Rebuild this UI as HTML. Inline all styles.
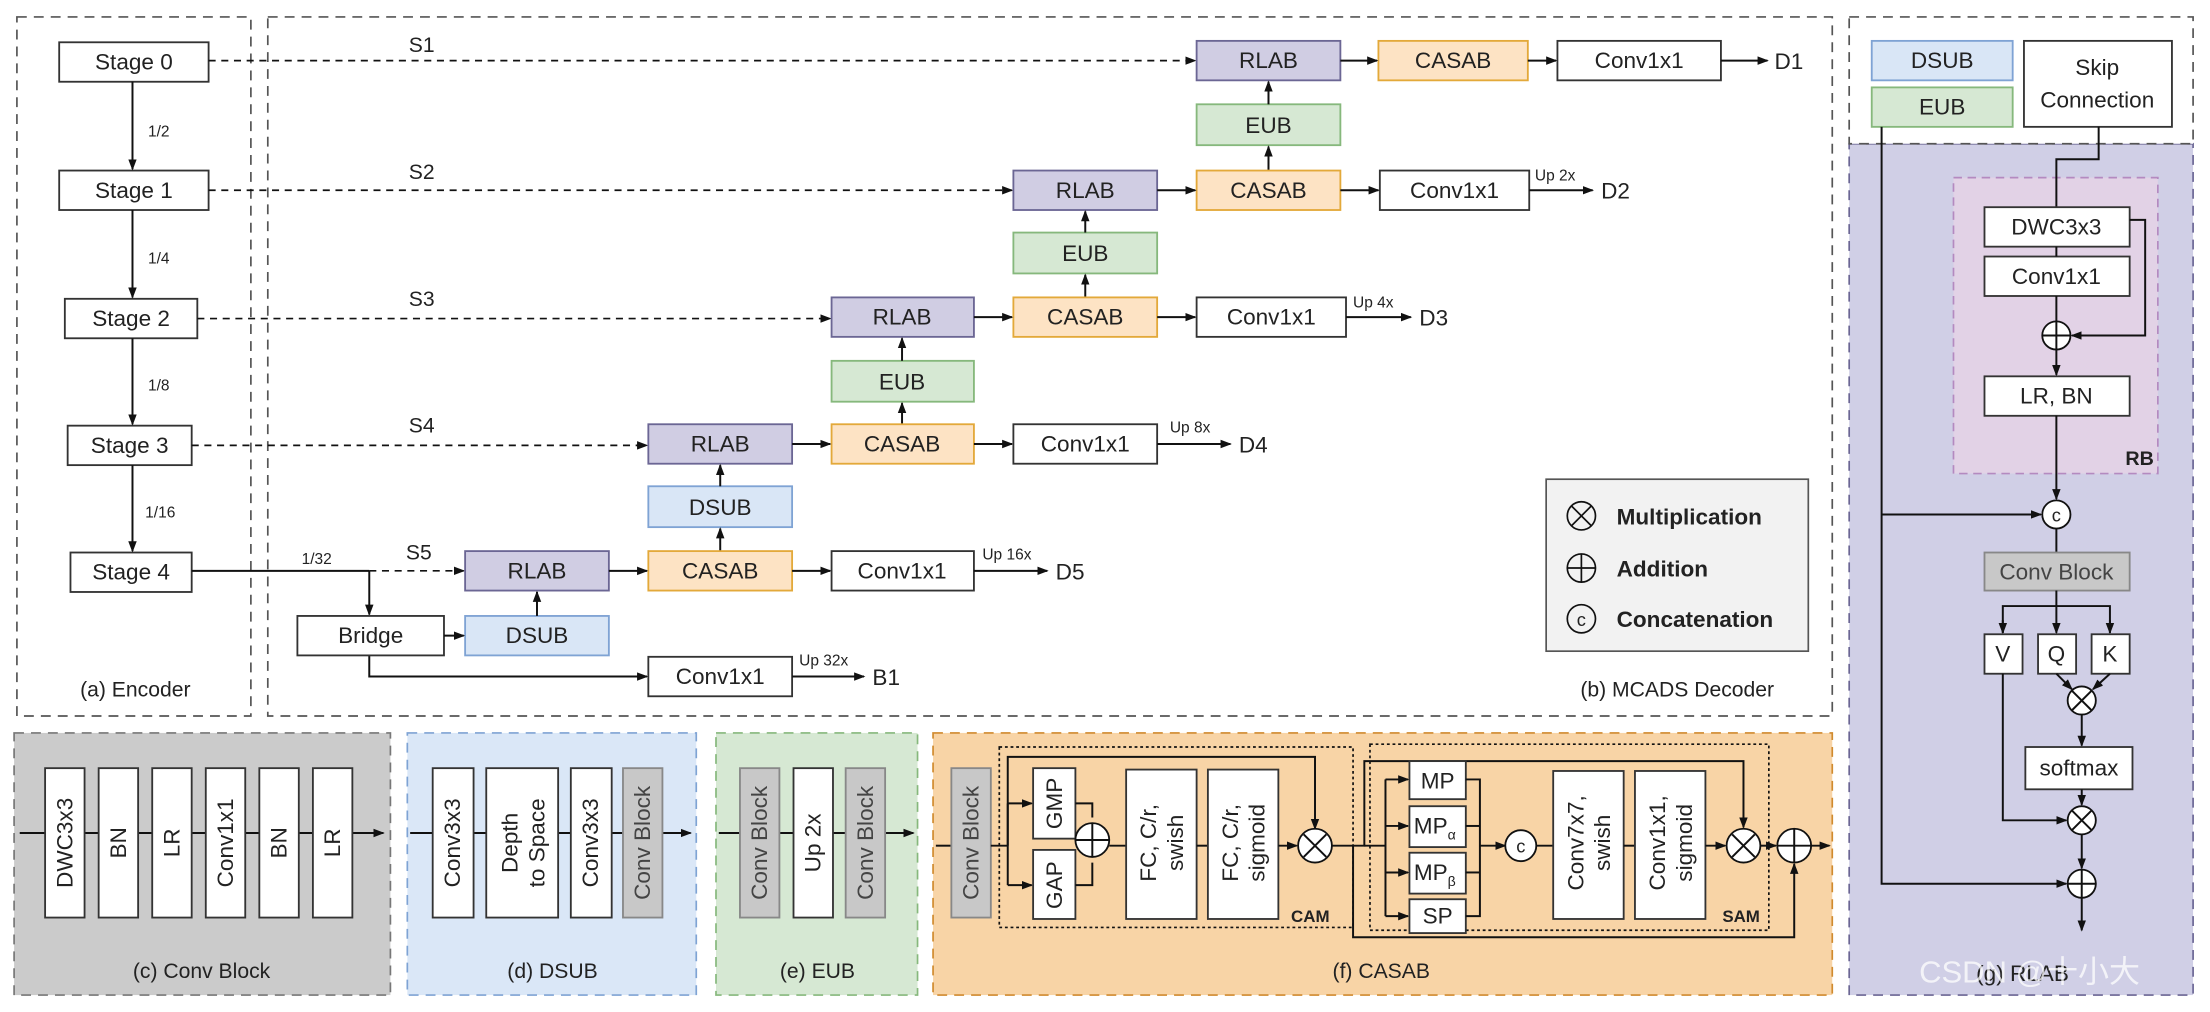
<!DOCTYPE html>
<html><head><meta charset="utf-8"><style>
html,body{margin:0;padding:0;background:#fff}
svg{display:block}
text{font-family:"Liberation Sans",sans-serif;fill:#222}
</style></head><body>
<svg width="2210" height="1012" viewBox="0 0 1568 718" preserveAspectRatio="none" xmlns="http://www.w3.org/2000/svg">
<defs>
<marker id="a" markerWidth="8" markerHeight="8" refX="7" refY="4" orient="auto" markerUnits="userSpaceOnUse"><path d="M0,1 L8,4 L0,7 Z" fill="#111"/></marker>
</defs>
<style>
.b{fill:#fff;stroke:#333;stroke-width:1.3}
.p{fill:#d0cde3;stroke:#6b6694;stroke-width:1.3}
.o{fill:#fde3c4;stroke:#e3a93a;stroke-width:1.3}
.g{fill:#d6e8d3;stroke:#86b87c;stroke-width:1.3}
.u{fill:#d9e6f6;stroke:#7fa3d4;stroke-width:1.3}
.k{fill:#c8c8c8;stroke:#888;stroke-width:1.3}
.l{stroke:#111;stroke-width:1.4;fill:none}
.d{stroke:#111;stroke-width:1.2;fill:none;stroke-dasharray:5 4}
.t{font-size:16px;text-anchor:middle;dominant-baseline:central}
.s{font-size:11px}
.c{fill:#fff;stroke:#111;stroke-width:1.3}
</style>
<!-- panels -->
<rect x="12" y="12" width="166" height="496" fill="none" stroke="#555" stroke-width="1.2" stroke-dasharray="7 5"/>
<rect x="190" y="12" width="1110" height="496" fill="none" stroke="#555" stroke-width="1.2" stroke-dasharray="7 5"/>
<rect x="1312" y="102" width="244" height="604" fill="#d0cfe6" stroke="#6b6694" stroke-width="1.2" stroke-dasharray="7 5"/>
<rect x="1312" y="12" width="244" height="90" fill="#fff" stroke="#555" stroke-width="1.2" stroke-dasharray="7 5"/>
<rect x="10" y="520" width="267" height="186" fill="#cbcbcb" stroke="#777" stroke-width="1.2" stroke-dasharray="7 5"/>
<rect x="289" y="520" width="205" height="186" fill="#dae7f7" stroke="#7fa3d4" stroke-width="1.2" stroke-dasharray="7 5"/>
<rect x="508" y="520" width="143" height="186" fill="#d6e8d3" stroke="#86b87c" stroke-width="1.2" stroke-dasharray="7 5"/>
<rect x="662" y="520" width="638" height="186" fill="#f8d4a6" stroke="#d08a2e" stroke-width="1.2" stroke-dasharray="7 5"/>

<!-- Encoder -->
<rect class="b" x="42" y="30" width="106" height="28"/><text class="t" x="95" y="44">Stage 0</text>
<rect class="b" x="42" y="121" width="106" height="28"/><text class="t" x="95" y="135">Stage 1</text>
<rect class="b" x="46" y="212" width="94" height="28"/><text class="t" x="93" y="226">Stage 2</text>
<rect class="b" x="48" y="302" width="88" height="28"/><text class="t" x="92" y="316">Stage 3</text>
<rect class="b" x="50" y="392" width="86" height="28"/><text class="t" x="93" y="406">Stage 4</text>
<line class="l" x1="94" y1="58" x2="94" y2="120" marker-end="url(#a)"/>
<line class="l" x1="94" y1="149" x2="94" y2="211" marker-end="url(#a)"/>
<line class="l" x1="94" y1="240" x2="94" y2="301" marker-end="url(#a)"/>
<line class="l" x1="94" y1="330" x2="94" y2="391" marker-end="url(#a)"/>
<text class="s" x="105" y="97">1/2</text><text class="s" x="105" y="187">1/4</text>
<text class="s" x="105" y="277">1/8</text><text class="s" x="103" y="367">1/16</text>
<text x="96" y="494" font-size="15" text-anchor="middle">(a) Encoder</text>

<!-- decoder skip lines -->
<line class="d" x1="148" y1="43" x2="848" y2="43" marker-end="url(#a)"/><text x="290" y="37" font-size="15">S1</text>
<line class="d" x1="148" y1="135" x2="718" y2="135" marker-end="url(#a)"/><text x="290" y="127" font-size="15">S2</text>
<line class="d" x1="140" y1="226" x2="589" y2="226" marker-end="url(#a)"/><text x="290" y="217" font-size="15">S3</text>
<line class="d" x1="136" y1="316" x2="459" y2="316" marker-end="url(#a)"/><text x="290" y="307" font-size="15">S4</text>
<line class="l" x1="136" y1="405" x2="262" y2="405"/><text class="s" x="214" y="400">1/32</text>
<line class="d" x1="262" y1="405" x2="329" y2="405" marker-end="url(#a)"/><text x="288" y="397" font-size="15">S5</text>
<line class="l" x1="262" y1="405" x2="262" y2="436" marker-end="url(#a)"/>
<polyline class="l" points="262,465 262,480 459,480" marker-end="url(#a)"/>

<!-- row1 -->
<rect class="p" x="849" y="29" width="102" height="28"/><text class="t" x="900" y="43">RLAB</text>
<rect class="o" x="978" y="29" width="106" height="28"/><text class="t" x="1031" y="43">CASAB</text>
<rect class="b" x="1105" y="29" width="116" height="28"/><text class="t" x="1163" y="43">Conv1x1</text>
<line class="l" x1="951" y1="43" x2="977" y2="43" marker-end="url(#a)"/>
<line class="l" x1="1084" y1="43" x2="1104" y2="43" marker-end="url(#a)"/>
<line class="l" x1="1221" y1="43" x2="1254" y2="43" marker-end="url(#a)"/><text x="1259" y="49" font-size="16">D1</text>
<rect class="g" x="849" y="74" width="102" height="29"/><text class="t" x="900" y="89">EUB</text>
<line class="l" x1="900" y1="74" x2="900" y2="58" marker-end="url(#a)"/>
<line class="l" x1="900" y1="121" x2="900" y2="104" marker-end="url(#a)"/>
<!-- row2 -->
<rect class="p" x="719" y="121" width="102" height="28"/><text class="t" x="770" y="135">RLAB</text>
<rect class="o" x="849" y="121" width="102" height="28"/><text class="t" x="900" y="135">CASAB</text>
<rect class="b" x="979" y="121" width="106" height="28"/><text class="t" x="1032" y="135">Conv1x1</text>
<line class="l" x1="821" y1="135" x2="848" y2="135" marker-end="url(#a)"/>
<line class="l" x1="951" y1="135" x2="978" y2="135" marker-end="url(#a)"/>
<line class="l" x1="1085" y1="135" x2="1130" y2="135" marker-end="url(#a)"/><text class="s" x="1089" y="128">Up 2x</text><text x="1136" y="141" font-size="16">D2</text>
<rect class="g" x="719" y="165" width="102" height="29"/><text class="t" x="770" y="180">EUB</text>
<line class="l" x1="770" y1="165" x2="770" y2="150" marker-end="url(#a)"/>
<line class="l" x1="770" y1="211" x2="770" y2="195" marker-end="url(#a)"/>
<!-- row3 -->
<rect class="p" x="590" y="211" width="101" height="28"/><text class="t" x="640" y="225">RLAB</text>
<rect class="o" x="719" y="211" width="102" height="28"/><text class="t" x="770" y="225">CASAB</text>
<rect class="b" x="849" y="211" width="106" height="28"/><text class="t" x="902" y="225">Conv1x1</text>
<line class="l" x1="691" y1="225" x2="718" y2="225" marker-end="url(#a)"/>
<line class="l" x1="821" y1="225" x2="848" y2="225" marker-end="url(#a)"/>
<line class="l" x1="955" y1="225" x2="1001" y2="225" marker-end="url(#a)"/><text class="s" x="960" y="218">Up 4x</text><text x="1007" y="231" font-size="16">D3</text>
<rect class="g" x="590" y="256" width="101" height="29"/><text class="t" x="640" y="271">EUB</text>
<line class="l" x1="640" y1="256" x2="640" y2="240" marker-end="url(#a)"/>
<line class="l" x1="640" y1="301" x2="640" y2="286" marker-end="url(#a)"/>
<!-- row4 -->
<rect class="p" x="460" y="301" width="102" height="28"/><text class="t" x="511" y="315">RLAB</text>
<rect class="o" x="590" y="301" width="101" height="28"/><text class="t" x="640" y="315">CASAB</text>
<rect class="b" x="719" y="301" width="102" height="28"/><text class="t" x="770" y="315">Conv1x1</text>
<line class="l" x1="562" y1="315" x2="589" y2="315" marker-end="url(#a)"/>
<line class="l" x1="691" y1="315" x2="718" y2="315" marker-end="url(#a)"/>
<line class="l" x1="821" y1="315" x2="873" y2="315" marker-end="url(#a)"/><text class="s" x="830" y="307">Up 8x</text><text x="879" y="321" font-size="16">D4</text>
<rect class="u" x="460" y="345" width="102" height="29"/><text class="t" x="511" y="360">DSUB</text>
<line class="l" x1="511" y1="345" x2="511" y2="330" marker-end="url(#a)"/>
<line class="l" x1="511" y1="391" x2="511" y2="375" marker-end="url(#a)"/>
<!-- row5 -->
<rect class="p" x="330" y="391" width="102" height="28"/><text class="t" x="381" y="405">RLAB</text>
<rect class="o" x="460" y="391" width="102" height="28"/><text class="t" x="511" y="405">CASAB</text>
<rect class="b" x="590" y="391" width="101" height="28"/><text class="t" x="640" y="405">Conv1x1</text>
<line class="l" x1="432" y1="405" x2="459" y2="405" marker-end="url(#a)"/>
<line class="l" x1="562" y1="405" x2="589" y2="405" marker-end="url(#a)"/>
<line class="l" x1="691" y1="405" x2="743" y2="405" marker-end="url(#a)"/><text class="s" x="697" y="397">Up 16x</text><text x="749" y="411" font-size="16">D5</text>
<rect class="b" x="211" y="437" width="104" height="28"/><text class="t" x="263" y="451">Bridge</text>
<rect class="u" x="330" y="437" width="102" height="28"/><text class="t" x="381" y="451">DSUB</text>
<line class="l" x1="315" y1="451" x2="329" y2="451" marker-end="url(#a)"/>
<line class="l" x1="381" y1="437" x2="381" y2="420" marker-end="url(#a)"/>
<rect class="b" x="460" y="466" width="102" height="28"/><text class="t" x="511" y="480">Conv1x1</text>
<line class="l" x1="562" y1="480" x2="613" y2="480" marker-end="url(#a)"/><text class="s" x="567" y="472">Up 32x</text><text x="619" y="486" font-size="16">B1</text>
<text x="1190" y="494" font-size="15" text-anchor="middle">(b) MCADS Decoder</text>

<!-- legend -->
<rect x="1097" y="340" width="186" height="122" fill="#f2f2f2" stroke="#555" stroke-width="1.2"/>
<g stroke="#111" stroke-width="1.2" fill="none">
<circle cx="1122" cy="366" r="10"/><path d="M1115,359 L1129,373 M1129,359 L1115,373"/>
<circle cx="1122" cy="403" r="10"/><path d="M1112,403 L1132,403 M1122,393 L1122,413"/>
<circle cx="1122" cy="439" r="10"/></g>
<text x="1122" y="444" font-size="13" text-anchor="middle">c</text>
<text x="1147" y="372" font-size="16" font-weight="bold">Multiplication</text>
<text x="1147" y="409" font-size="16" font-weight="bold">Addition</text>
<text x="1147" y="445" font-size="16" font-weight="bold">Concatenation</text>

<!-- RLAB panel -->
<rect class="u" x="1328" y="29" width="100" height="28"/><text class="t" x="1378" y="43">DSUB</text>
<rect class="g" x="1328" y="62" width="100" height="28"/><text class="t" x="1378" y="76">EUB</text>
<rect class="b" x="1436" y="29" width="105" height="61"/><text class="t" x="1488" y="48">Skip</text><text class="t" x="1488" y="71">Connection</text>
<rect x="1386" y="126" width="145" height="210" fill="#e2d2e6" stroke="#b48ac0" stroke-width="1.2" stroke-dasharray="6 4"/>
<text x="1508" y="330" font-size="14" font-weight="bold">RB</text>
<polyline class="l" points="1489,90 1489,113 1459,113 1459,147"/>
<rect class="b" x="1408" y="147" width="103" height="28"/><text class="t" x="1459" y="161">DWC3x3</text>
<rect class="b" x="1408" y="182" width="103" height="28"/><text class="t" x="1459" y="196">Conv1x1</text>
<line class="l" x1="1459" y1="175" x2="1459" y2="182"/>
<polyline class="l" points="1511,156 1522,156 1522,238 1470,238" marker-end="url(#a)"/>
<line class="l" x1="1459" y1="210" x2="1459" y2="228"/>
<circle class="c" cx="1459" cy="238" r="10"/><path class="l" d="M1449,238 H1469 M1459,228 V248"/>
<line class="l" x1="1459" y1="248" x2="1459" y2="266" marker-end="url(#a)"/>
<rect class="b" x="1408" y="267" width="103" height="28"/><text class="t" x="1459" y="281">LR, BN</text>
<line class="l" x1="1459" y1="295" x2="1459" y2="354" marker-end="url(#a)"/>
<polyline class="l" points="1335,90 1335,627 1466,627" marker-end="url(#a)"/>
<line class="l" x1="1335" y1="365" x2="1448" y2="365" marker-end="url(#a)"/>
<circle class="c" cx="1459" cy="365" r="10"/><text x="1459" y="370" font-size="13" text-anchor="middle">c</text>
<line class="l" x1="1459" y1="375" x2="1459" y2="392"/>
<rect class="k" x="1408" y="392" width="103" height="27"/><text class="t" x="1459" y="406" style="fill:#444">Conv Block</text>
<line class="l" x1="1459" y1="419" x2="1459" y2="449" marker-end="url(#a)"/>
<polyline class="l" points="1421,449 1421,430 1497,430 1497,449"/>
<path class="l" d="M1421,440 V449" marker-end="url(#a)"/><path class="l" d="M1497,440 V449" marker-end="url(#a)"/>
<rect class="b" x="1408" y="450" width="27" height="28"/><text class="t" x="1421" y="464">V</text>
<rect class="b" x="1446" y="450" width="27" height="28"/><text class="t" x="1459" y="464">Q</text>
<rect class="b" x="1484" y="450" width="27" height="28"/><text class="t" x="1497" y="464">K</text>
<line class="l" x1="1459" y1="478" x2="1470" y2="489" marker-end="url(#a)"/>
<line class="l" x1="1497" y1="478" x2="1485" y2="489" marker-end="url(#a)"/>
<circle class="c" cx="1477" cy="497" r="10"/><path class="l" d="M1470,490 L1484,504 M1484,490 L1470,504"/>
<line class="l" x1="1477" y1="507" x2="1477" y2="529" marker-end="url(#a)"/>
<rect class="b" x="1437" y="530" width="76" height="30"/><text class="t" x="1475" y="545">softmax</text>
<line class="l" x1="1477" y1="560" x2="1477" y2="571" marker-end="url(#a)"/>
<polyline class="l" points="1421,478 1421,582 1466,582" marker-end="url(#a)"/>
<circle class="c" cx="1477" cy="582" r="10"/><path class="l" d="M1470,575 L1484,589 M1484,575 L1470,589"/>
<line class="l" x1="1477" y1="592" x2="1477" y2="616" marker-end="url(#a)"/>
<circle class="c" cx="1477" cy="627" r="10"/><path class="l" d="M1467,627 H1487 M1477,617 V637"/>
<line class="l" x1="1477" y1="637" x2="1477" y2="660" marker-end="url(#a)"/>
<text x="1435" y="696" font-size="16" text-anchor="middle">(g) RLAB</text>
<text x="1440" y="697" font-size="22" text-anchor="middle" style="fill:#fff;opacity:.75">CSDN @十小大</text>

<!-- (c) Conv Block -->
<line class="l" x1="14" y1="591" x2="272" y2="591" marker-end="url(#a)"/>
<g font-size="16">
<rect class="b" x="32" y="545" width="28" height="106"/><text class="t" transform="translate(46,598) rotate(-90)">DWC3x3</text>
<rect class="b" x="70" y="545" width="28" height="106"/><text class="t" transform="translate(84,598) rotate(-90)">BN</text>
<rect class="b" x="108" y="545" width="28" height="106"/><text class="t" transform="translate(122,598) rotate(-90)">LR</text>
<rect class="b" x="146" y="545" width="28" height="106"/><text class="t" transform="translate(160,598) rotate(-90)">Conv1x1</text>
<rect class="b" x="184" y="545" width="28" height="106"/><text class="t" transform="translate(198,598) rotate(-90)">BN</text>
<rect class="b" x="222" y="545" width="28" height="106"/><text class="t" transform="translate(236,598) rotate(-90)">LR</text>
</g>
<text x="143" y="694" font-size="15" text-anchor="middle">(c) Conv Block</text>
<!-- (d) DSUB -->
<line class="l" x1="291" y1="591" x2="490" y2="591" marker-end="url(#a)"/>
<rect class="b" x="307" y="545" width="29" height="106"/><text class="t" transform="translate(321,598) rotate(-90)">Conv3x3</text>
<rect class="b" x="345" y="545" width="51" height="106"/><text class="t" transform="translate(362,598) rotate(-90)">Depth</text><text class="t" transform="translate(381,598) rotate(-90)">to Space</text>
<rect class="b" x="405" y="545" width="29" height="106"/><text class="t" transform="translate(419,598) rotate(-90)">Conv3x3</text>
<rect class="k" x="442" y="545" width="28" height="106"/><text class="t" transform="translate(456,598) rotate(-90)" style="fill:#444">Conv Block</text>
<text x="392" y="694" font-size="15" text-anchor="middle">(d) DSUB</text>
<!-- (e) EUB -->
<line class="l" x1="510" y1="591" x2="648" y2="591" marker-end="url(#a)"/>
<rect class="k" x="525" y="545" width="28" height="106"/><text class="t" transform="translate(539,598) rotate(-90)" style="fill:#444">Conv Block</text>
<rect class="b" x="563" y="545" width="28" height="106"/><text class="t" transform="translate(577,598) rotate(-90)">Up 2x</text>
<rect class="k" x="600" y="545" width="28" height="106"/><text class="t" transform="translate(614,598) rotate(-90)" style="fill:#444">Conv Block</text>
<text x="580" y="694" font-size="15" text-anchor="middle">(e) EUB</text>

<!-- (f) CASAB -->
<rect x="709" y="530" width="251" height="128" fill="none" stroke="#111" stroke-width="1.2" stroke-dasharray="2 2"/>
<rect x="972" y="528" width="283" height="132" fill="none" stroke="#111" stroke-width="1.2" stroke-dasharray="2 2"/>
<line class="l" x1="664" y1="600" x2="675" y2="600"/>
<rect class="k" x="675" y="545" width="28" height="106"/><text class="t" transform="translate(689,598) rotate(-90)" style="fill:#444">Conv Block</text>
<line class="l" x1="703" y1="600" x2="715" y2="600"/>
<polyline class="l" points="715,570 715,628"/>
<line class="l" x1="715" y1="570" x2="732" y2="570" marker-end="url(#a)"/>
<line class="l" x1="715" y1="628" x2="732" y2="628" marker-end="url(#a)"/>
<polyline class="l" points="715,600 715,537 933,537 933,588" marker-end="url(#a)"/>
<rect class="b" x="733" y="545" width="30" height="50"/><text class="t" transform="translate(748,570) rotate(-90)">GMP</text>
<rect class="b" x="733" y="603" width="30" height="49"/><text class="t" transform="translate(748,628) rotate(-90)">GAP</text>
<polyline class="l" points="763,570 775,570 775,580"/><polyline class="l" points="763,628 775,628 775,612"/>
<circle class="c" cx="775" cy="596" r="12"/><path class="l" d="M763,596 H787 M775,584 V608"/>
<line class="l" x1="787" y1="600" x2="799" y2="600"/>
<rect class="b" x="799" y="546" width="50" height="106"/><text class="t" transform="translate(815,598) rotate(-90)">FC, C/r,</text><text class="t" transform="translate(834,598) rotate(-90)">swish</text>
<line class="l" x1="849" y1="600" x2="857" y2="600"/>
<rect class="b" x="857" y="546" width="50" height="106"/><text class="t" transform="translate(873,598) rotate(-90)">FC, C/r,</text><text class="t" transform="translate(892,598) rotate(-90)">sigmoid</text>
<line class="l" x1="907" y1="600" x2="920" y2="600" marker-end="url(#a)"/>
<circle class="c" cx="933" cy="600" r="12"/><path class="l" d="M925,592 L941,608 M941,592 L925,608"/>
<text x="916" y="654" font-size="12" font-weight="bold">CAM</text>
<polyline class="l" points="945,600 960,600 960,665 1273,665 1273,613" marker-end="url(#a)"/>
<polyline class="l" points="960,600 968,600 968,540 1237,540 1237,587" marker-end="url(#a)"/>
<line class="l" x1="968" y1="600" x2="983" y2="600"/>
<polyline class="l" points="983,553 983,650"/>
<line class="l" x1="983" y1="553" x2="999" y2="553" marker-end="url(#a)"/>
<line class="l" x1="983" y1="586" x2="999" y2="586" marker-end="url(#a)"/>
<line class="l" x1="983" y1="619" x2="999" y2="619" marker-end="url(#a)"/>
<line class="l" x1="983" y1="650" x2="999" y2="650" marker-end="url(#a)"/>
<rect class="b" x="1000" y="540" width="40" height="27"/><text class="t" x="1020" y="554">MP</text>
<rect class="b" x="1000" y="572" width="40" height="29"/><text class="t" x="1018" y="586">MP<tspan font-size="10" dy="6">α</tspan></text>
<rect class="b" x="1000" y="605" width="40" height="29"/><text class="t" x="1018" y="619">MP<tspan font-size="10" dy="6">β</tspan></text>
<rect class="b" x="1000" y="638" width="40" height="24"/><text class="t" x="1020" y="650">SP</text>
<polyline class="l" points="1040,553 1050,553 1050,650 1040,650"/>
<line class="l" x1="1040" y1="586" x2="1050" y2="586"/><line class="l" x1="1040" y1="619" x2="1050" y2="619"/>
<line class="l" x1="1050" y1="600" x2="1068" y2="600" marker-end="url(#a)"/>
<circle class="c" cx="1079" cy="600" r="11"/><text x="1079" y="605" font-size="13" text-anchor="middle">c</text>
<line class="l" x1="1090" y1="600" x2="1102" y2="600"/>
<rect class="b" x="1102" y="547" width="50" height="105"/><text class="t" transform="translate(1118,598) rotate(-90)">Conv7x7,</text><text class="t" transform="translate(1137,598) rotate(-90)">swish</text>
<line class="l" x1="1152" y1="600" x2="1160" y2="600"/>
<rect class="b" x="1160" y="547" width="50" height="105"/><text class="t" transform="translate(1176,598) rotate(-90)">Conv1x1,</text><text class="t" transform="translate(1195,598) rotate(-90)">sigmoid</text>
<line class="l" x1="1210" y1="600" x2="1224" y2="600" marker-end="url(#a)"/>
<circle class="c" cx="1237" cy="600" r="12"/><path class="l" d="M1229,592 L1245,608 M1245,592 L1229,608"/>
<text x="1222" y="654" font-size="12" font-weight="bold">SAM</text>
<line class="l" x1="1249" y1="600" x2="1260" y2="600" marker-end="url(#a)"/>
<circle class="c" cx="1273" cy="600" r="12"/><path class="l" d="M1261,600 H1285 M1273,588 V612"/>
<line class="l" x1="1285" y1="600" x2="1298" y2="600" marker-end="url(#a)"/>
<text x="980" y="694" font-size="15" text-anchor="middle">(f) CASAB</text>
</svg>
</body></html>
